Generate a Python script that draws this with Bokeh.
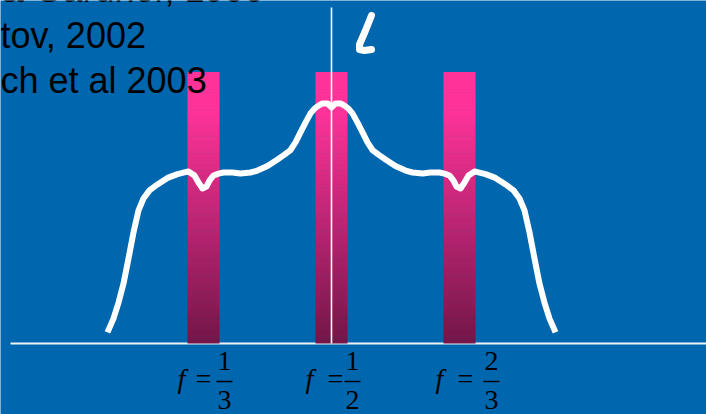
from bokeh.plotting import figure
from bokeh.models import Range1d, Label
from bokeh.embed import file_html
from bokeh.resources import INLINE

# Resonance positions (fractions f) and their labels
resonance_f = [1/3, 1/2, 2/3]
resonance_num = ["1", "1", "2"]
resonance_den = ["3", "2", "3"]
resonance_height = [1.0, 1.0, 1.0]

# Schematic response curve (f, amplitude)
curve_f = [0.2083, 0.2161, 0.2227, 0.2292, 0.2357, 0.2422, 0.2487, 0.2552, 0.2630, 0.2734,
           0.2865, 0.2995, 0.3138, 0.3216, 0.3268, 0.3320, 0.3372, 0.3411, 0.3464, 0.3529,
           0.3594, 0.3711, 0.3815, 0.3945, 0.4036, 0.4167, 0.4297, 0.4388, 0.4466, 0.4531,
           0.4596, 0.4661, 0.4727, 0.4779, 0.4831, 0.4883, 0.4948, 0.5000,
           0.5052, 0.5117, 0.5169, 0.5221, 0.5273, 0.5339, 0.5404, 0.5469, 0.5534, 0.5612,
           0.5703, 0.5833, 0.5964, 0.6055, 0.6185, 0.6289, 0.6406, 0.6471, 0.6536, 0.6589,
           0.6628, 0.6680, 0.6732, 0.6784, 0.6862, 0.7005, 0.7135, 0.7266, 0.7370, 0.7448,
           0.7513, 0.7578, 0.7643, 0.7708, 0.7773, 0.7839, 0.7917]
curve_amp = [0.041, 0.092, 0.151, 0.221, 0.314, 0.410, 0.491, 0.535, 0.565, 0.587,
             0.611, 0.625, 0.635, 0.620, 0.594, 0.572, 0.579, 0.601, 0.620, 0.627,
             0.631, 0.631, 0.627, 0.631, 0.638, 0.655, 0.679, 0.697, 0.714, 0.742,
             0.779, 0.815, 0.849, 0.867, 0.878, 0.886, 0.886, 0.871,
             0.886, 0.886, 0.878, 0.867, 0.849, 0.815, 0.779, 0.742, 0.714, 0.697,
             0.679, 0.655, 0.638, 0.631, 0.627, 0.631, 0.631, 0.627, 0.620, 0.601,
             0.579, 0.572, 0.594, 0.620, 0.635, 0.625, 0.611, 0.587, 0.565, 0.535,
             0.491, 0.410, 0.314, 0.221, 0.151, 0.092, 0.041]

citations = ["& Gardner, 1999", "tov, 2002", "ch et al 2003"]

W, H = 706, 414
BG = "#0066AD"
X0, X1 = 0.06901, 0.98828
Y0, Y1 = -0.26199, 1.26568
PXF = W / (X1 - X0)     # pixels per unit of f
PXY = H / (Y1 - Y0)     # pixels per unit of amplitude
TXT_SHIFT = 12          # lift applied to screen-anchored labels


def sx(px):
    return X0 + px / PXF


def sy(py):
    return Y1 - py / PXY


p = figure(width=W, height=H, x_range=Range1d(X0, X1), y_range=Range1d(Y0, Y1),
           output_backend="svg", toolbar_location=None, min_border=0)
p.axis.visible = False
p.grid.visible = False
p.outline_line_color = None
p.background_fill_color = BG
p.border_fill_color = BG

# Baseline
p.segment(x0=[sx(10)], y0=[0], x1=[X1], y1=[0], line_color="#EEF3F8", line_width=2)

# Resonance bars with a vertical pink-to-maroon gradient
half_w = 16 / PXF
n = 80
top_c = (0xFF, 0x33, 0x99)
bot_c = (0x72, 0x16, 0x48)
for f, h in zip(resonance_f, resonance_height):
    lefts, rights, bots, tops, cols = [], [], [], [], []
    for i in range(n):
        b = h * i / n
        t = h * (i + 1) / n
        frac = (i + 0.5) / n
        u = min(1.0, frac / 0.86)
        c = tuple(int(round(bc + (tc - bc) * u)) for tc, bc in zip(top_c, bot_c))
        lefts.append(f - half_w)
        rights.append(f + half_w)
        bots.append(b)
        tops.append(t + 0.002)
        cols.append("#%02x%02x%02x" % c)
    p.quad(left=lefts, right=rights, bottom=bots, top=tops, fill_color=cols,
           line_color=None)

# Response curve
p.line(curve_f, curve_amp, line_color="white", line_width=6, line_join="round",
       line_cap="butt")

# Vertical marker at f = 1/2
p.segment(x0=[0.5], y0=[0], x1=[0.5], y1=[sy(7)], line_color="white", line_width=1.6)

# Hand-drawn "l" mark
l_px = [(371, 15), (365, 30), (359, 44), (359, 49), (364, 50), (371, 49)]
p.line([sx(a) for a, _ in l_px], [sy(b) for _, b in l_px], line_color="white",
       line_width=7, line_cap="round", line_join="round")


def screen_y(py):
    return H - py + TXT_SHIFT


# Citation lines at top-left
for i, txt in enumerate(citations):
    p.add_layout(Label(x=0, y=screen_y(1 + 45.5 * i), x_units="screen", y_units="screen",
                       text=txt, text_font="Liberation Sans", text_font_size="36px",
                       text_color="black", text_baseline="alphabetic", text_align="left"))

# Fraction labels  f = n/d  under each bar (pixel offsets from bar centre)
label_layout = [(-22, 0, 21), (-22, 4, 21), (-20, 6, 32)]
serif = "Liberation Serif"
for f, num, den, (of, oe, ofr) in zip(resonance_f, resonance_num, resonance_den, label_layout):
    p.add_layout(Label(x=f, y=screen_y(390), y_units="screen", x_offset=of, text="f",
                       text_font=serif, text_font_style="italic", text_font_size="28px",
                       text_color="black", text_align="center", text_baseline="alphabetic"))
    p.add_layout(Label(x=f, y=screen_y(390), y_units="screen", x_offset=oe, text="=",
                       text_font=serif, text_font_size="28px",
                       text_color="black", text_align="center", text_baseline="alphabetic"))
    p.add_layout(Label(x=f, y=screen_y(372), y_units="screen", x_offset=ofr, text=num,
                       text_font=serif, text_font_size="28px",
                       text_color="black", text_align="center", text_baseline="alphabetic"))
    p.add_layout(Label(x=f, y=screen_y(411), y_units="screen", x_offset=ofr, text=den,
                       text_font=serif, text_font_size="28px",
                       text_color="black", text_align="center", text_baseline="alphabetic"))
    p.segment(x0=[f + (ofr - 8) / PXF], y0=[sy(381)], x1=[f + (ofr + 8) / PXF],
              y1=[sy(381)], line_color="black", line_width=1.4)

open("out.html", "w").write(file_html(p, INLINE))
